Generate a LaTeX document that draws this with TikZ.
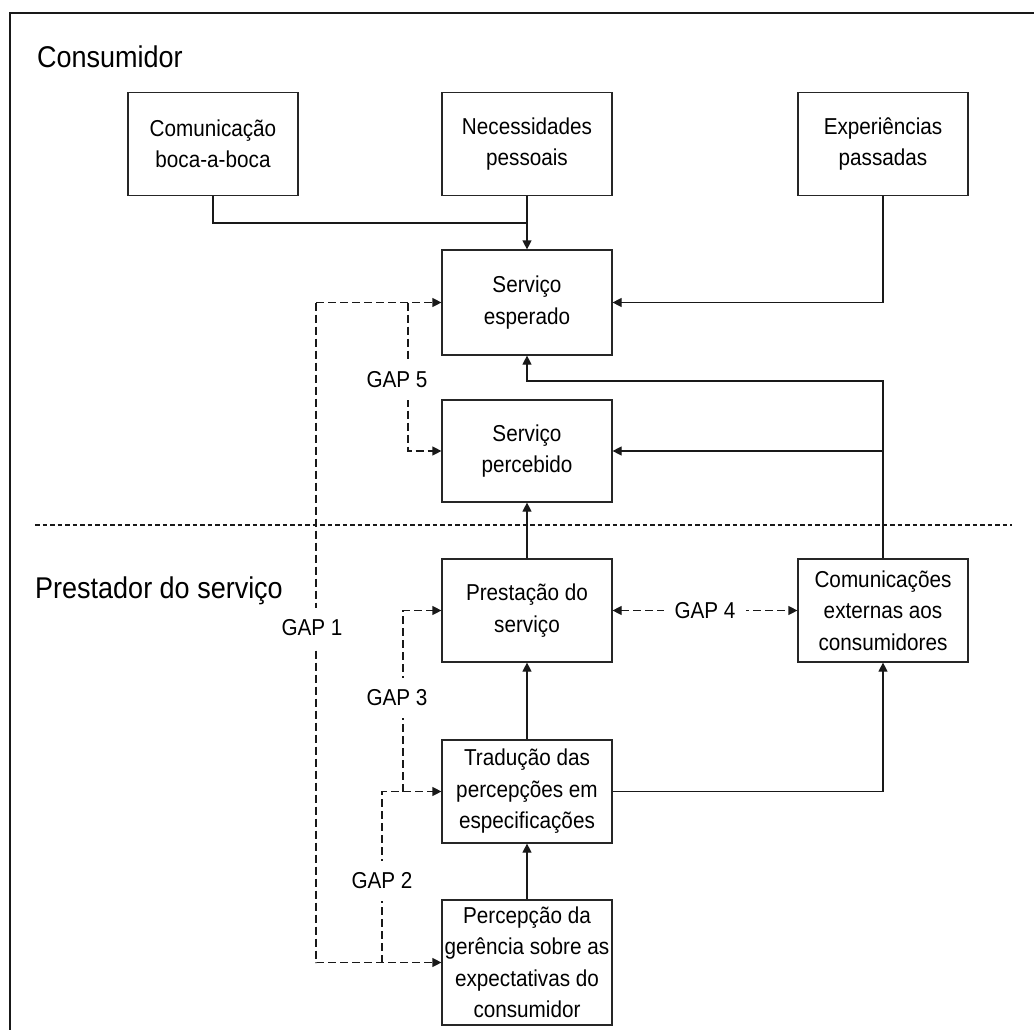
\documentclass[tikz,border=0pt]{standalone}
\usepackage{fontspec}
\setmainfont{Liberation Sans}[FakeStretch=0.9]
\usetikzlibrary{arrows.meta,calc}
\tikzset{
  box/.style={draw=black!85, line width=1.2pt, minimum width=170pt, minimum height=103pt,
    inner sep=0pt, align=center, font=\fontsize{23}{31.5}\selectfont},
  conn/.style={draw=black!90, line width=1.2pt},
  arr/.style={conn, -{Triangle[length=9pt,width=9pt]}},
  gapline/.style={draw=black!90, line width=1.2pt, dash pattern=on 8pt off 4pt},
  gaparr/.style={gapline, -{Triangle[length=9pt,width=9pt]}},
  gaplabel/.style={fill=white, inner xsep=11pt, inner ysep=12pt, font=\fontsize{23}{28}\selectfont},
  title/.style={anchor=base west, inner sep=0pt, font=\fontsize{30}{36}\selectfont},
}
\begin{document}
\begin{tikzpicture}[x=1pt,y=1pt]
\useasboundingbox (0,0) rectangle (1034,-1030);
% frame (cropped)
\coordinate (fbl) at (10,-1030);
\coordinate (ftl) at (10,-13);
\coordinate (ftr) at (1034,-13);
\draw[line width=2pt, black!90] (fbl) -- (ftl) -- (ftr);

% titles
\node[title] (tcons) at (37,-68) {Consumidor};
\node[title] (tprest) at (35,-598) {Prestador do serviço};

% separator
\coordinate (sepL) at (35,-525);
\coordinate (sepR) at (1012,-525);
\draw[line width=1.2pt, black!90, dash pattern=on 4.5pt off 3pt] (sepL) -- (sepR);

% boxes
\node[box] (com) at (213,-144) {Comunicação\\boca-a-boca};
\node[box] (nec) at (527,-144) {Necessidades\\pessoais};
\node[box] (exp) at (883,-144) {Experiências\\passadas};
\node[box, minimum height=105pt] (esp) at (527,-302.5) {Serviço\\esperado};
\node[box, minimum height=102pt] (per) at (527,-451) {Serviço\\percebido};
\node[box] (pre) at (527,-610.5) {Prestação do\\serviço};
\node[box] (ext) at (883,-610.5) {Comunicações\\externas aos\\consumidores};
\node[box] (tra) at (527,-791.5) {Tradução das\\percepções em\\especificações};
\node[box, minimum height=125pt] (pge) at (527,-962.5) {Percepção da\\gerência sobre as\\expectativas do\\consumidor};

% solid connectors
\coordinate (j1) at (527,-223);
\draw[conn] (com.south) |- (j1);
\draw[arr] (nec.south) -- (esp.north);
\draw[arr] (exp.south) |- (esp.east);
\coordinate (k1) at (527,-381);
\draw[arr] (ext.north) |- (k1) -- (esp.south);
\draw[arr] (ext.north |- per.east) -- (per.east);
\draw[arr] (pre.north) -- (per.south);
\draw[arr] (tra.north) -- (pre.south);
\draw[arr] (pge.north) -- (tra.south);
\draw[arr] (tra.east) -| (ext.south);

% dashed gap connectors
\coordinate (g1) at (316,-302.5);
\draw[gaparr] (g1) -- (esp.west);
\draw[gaparr] (g1) |- (pge.west);
\coordinate (g5) at (408,-302.5);
\draw[gaparr] (g5) |- (per.west);
\coordinate (g3) at (403,-791.5);
\draw[gaparr] (g3) |- (pre.west);
\coordinate (g2) at (382,-962.5);
\draw[gaparr] (g2) |- (tra.west);
\draw[gapline, {Triangle[length=9pt,width=9pt]}-{Triangle[length=9pt,width=9pt]}] (pre.east) -- node[gaplabel] (l4) {GAP 4} (ext.west);

% gap labels
\node[gaplabel] (l5) at (397,-380) {GAP 5};
\node[gaplabel] (l1) at (312,-628) {GAP 1};
\node[gaplabel] (l3) at (397,-698) {GAP 3};
\node[gaplabel] (l2) at (382,-881) {GAP 2};
\end{tikzpicture}
\end{document}
